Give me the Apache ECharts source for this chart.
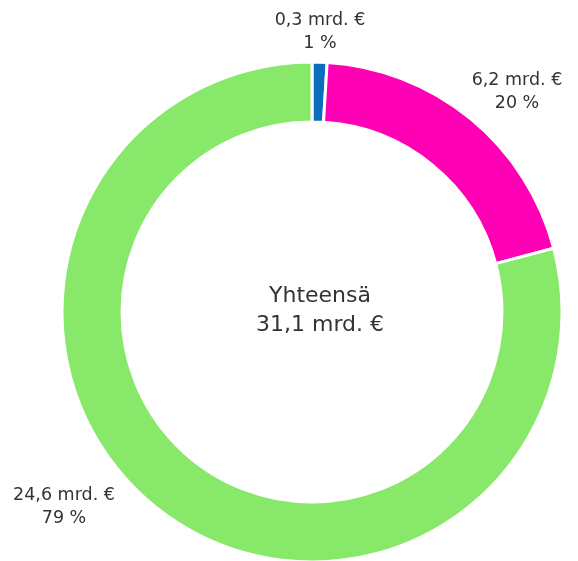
<!DOCTYPE html>
<html>
<head>
<meta charset="utf-8">
<script src="https://cdn.jsdelivr.net/npm/echarts@6/dist/echarts.min.js"></script>
<style>
    html, body { margin: 0; padding: 0; background: #fff; }
    #chart { width: 578px; height: 561px; }
</style>
</head>
<body>
<div id="chart"></div>
<script>
    'use strict';

    // osuudet, mrd. €
    var categories = ['Sininen', 'Magenta', 'Vihreä'];
    var values = [0.3, 6.2, 24.6];
    var percents = [1, 20, 79];
    var colors = ['#0a6ebd', '#ff00b4', '#88e86a'];
    var totalLabel = 'Yhteensä';

    function fmt(v) {
        return v.toFixed(1).replace('.', ',') + ' mrd. €';
    }

    var total = 0;
    for (var i = 0; i < values.length; i++) {
        total += values[i];
    }

    var pieData = [];
    for (var j = 0; j < values.length; j++) {
        pieData.push({
            name: categories[j],
            value: values[j],
            itemStyle: { color: colors[j] }
        });
    }

    // label anchor points (label centres) around the ring
    var labelAnchors = [[320, 32], [517, 92], [64, 507]];

    var chart = echarts.init(document.getElementById('chart'));
    chart.setOption({
        animation: false,
        graphic: [{
            type: 'text',
            x: 320,
            y: 311,
            style: {
                text: totalLabel + '\n' + fmt(total),
                fill: '#333',
                font: '22px "DejaVu Sans"',
                lineHeight: 29,
                align: 'center',
                verticalAlign: 'middle'
            }
        }],
        series: [{
            type: 'pie',
            center: [312, 312],
            radius: [190, 250],
            startAngle: 90,
            clockwise: true,
            itemStyle: { borderColor: '#fff', borderWidth: 3 },
            label: {
                show: true,
                position: 'outside',
                color: '#333',
                fontFamily: 'DejaVu Sans',
                fontSize: 17.5,
                lineHeight: 23,
                align: 'center',
                overflow: 'none',
                formatter: function (p) {
                    return fmt(p.value) + '\n' + percents[p.dataIndex] + ' %';
                }
            },
            labelLine: { show: false, length: 30, length2: 0 },
            labelLayout: function (p) {
                var a = labelAnchors[p.dataIndex];
                return {
                    x: a[0],
                    y: a[1],
                    align: 'center',
                    verticalAlign: 'middle',
                    hideOverlap: false
                };
            },
            data: pieData
        }]
    });
</script>
</body>
</html>
